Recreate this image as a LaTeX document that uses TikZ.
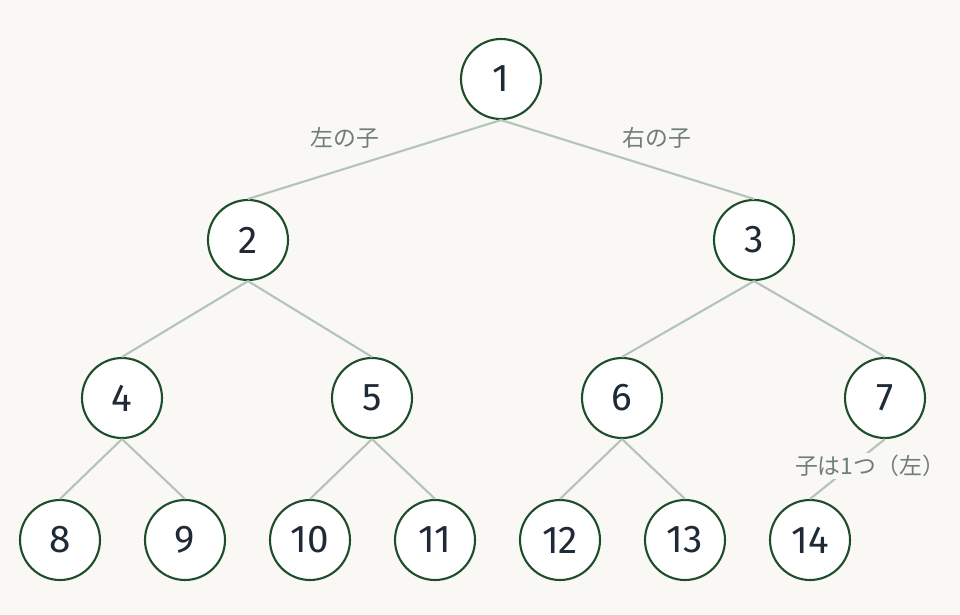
\documentclass[tikz,border=0pt]{standalone}
\usepackage{fontspec}
\setmainfont{Fira Sans}
\newfontfamily\cjk{Noto Sans CJK JP}
\definecolor{bg}{HTML}{F9F8F4}
\definecolor{ring}{HTML}{1E4D2B}
\definecolor{edgec}{HTML}{B3C4BA}
\definecolor{numc}{HTML}{1F2A37}
\definecolor{labc}{HTML}{6E7F76}
\tikzset{
  vert/.style={circle, draw=ring, line width=1.2pt, fill=white, minimum size=1.6cm,
    inner sep=0pt, text=numc, font=\fontsize{22}{24}\selectfont},
  link/.style={draw=edgec, line width=1.2pt},
  lab/.style={text=labc, font=\cjk\fontsize{13}{15}\selectfont, inner sep=1pt}
}
\begin{document}
\begin{tikzpicture}[x=0.02cm,y=-0.02cm]
\fill[bg] (0,0) rectangle (960,615);
\useasboundingbox (0,0) rectangle (960,615);
% nodes
\node[vert] (n1) at (501,79) {1};
\node[vert] (n2) at (248,240) {2};
\node[vert] (n3) at (754,240) {3};
\node[vert] (n4) at (122,398) {4};
\node[vert] (n5) at (372,398) {5};
\node[vert] (n6) at (622,398) {6};
\node[vert] (n7) at (885,398) {7};
\node[vert] (n8) at (60,540) {8};
\node[vert] (n9) at (185,540) {9};
\node[vert] (n10) at (310,540) {10};
\node[vert] (n11) at (435,540) {11};
\node[vert] (n12) at (560,540) {12};
\node[vert] (n13) at (685,540) {13};
\node[vert] (n14) at (810,540) {14};
% edges
\foreach \a/\b in {n1/n2,n1/n3,n2/n4,n2/n5,n3/n6,n3/n7,n4/n8,n4/n9,n5/n10,n5/n11,n6/n12,n6/n13,n7/n14}
  \draw[link] (\a.south) -- (\b.north);
% labels
\node[lab] (l1) at (345,138) {左の子};
\node[lab] (l2) at (657,138) {右の子};
\node[lab, fill=bg] (l3) at (870,466) {子は1つ（左）};
\end{tikzpicture}
\end{document}
